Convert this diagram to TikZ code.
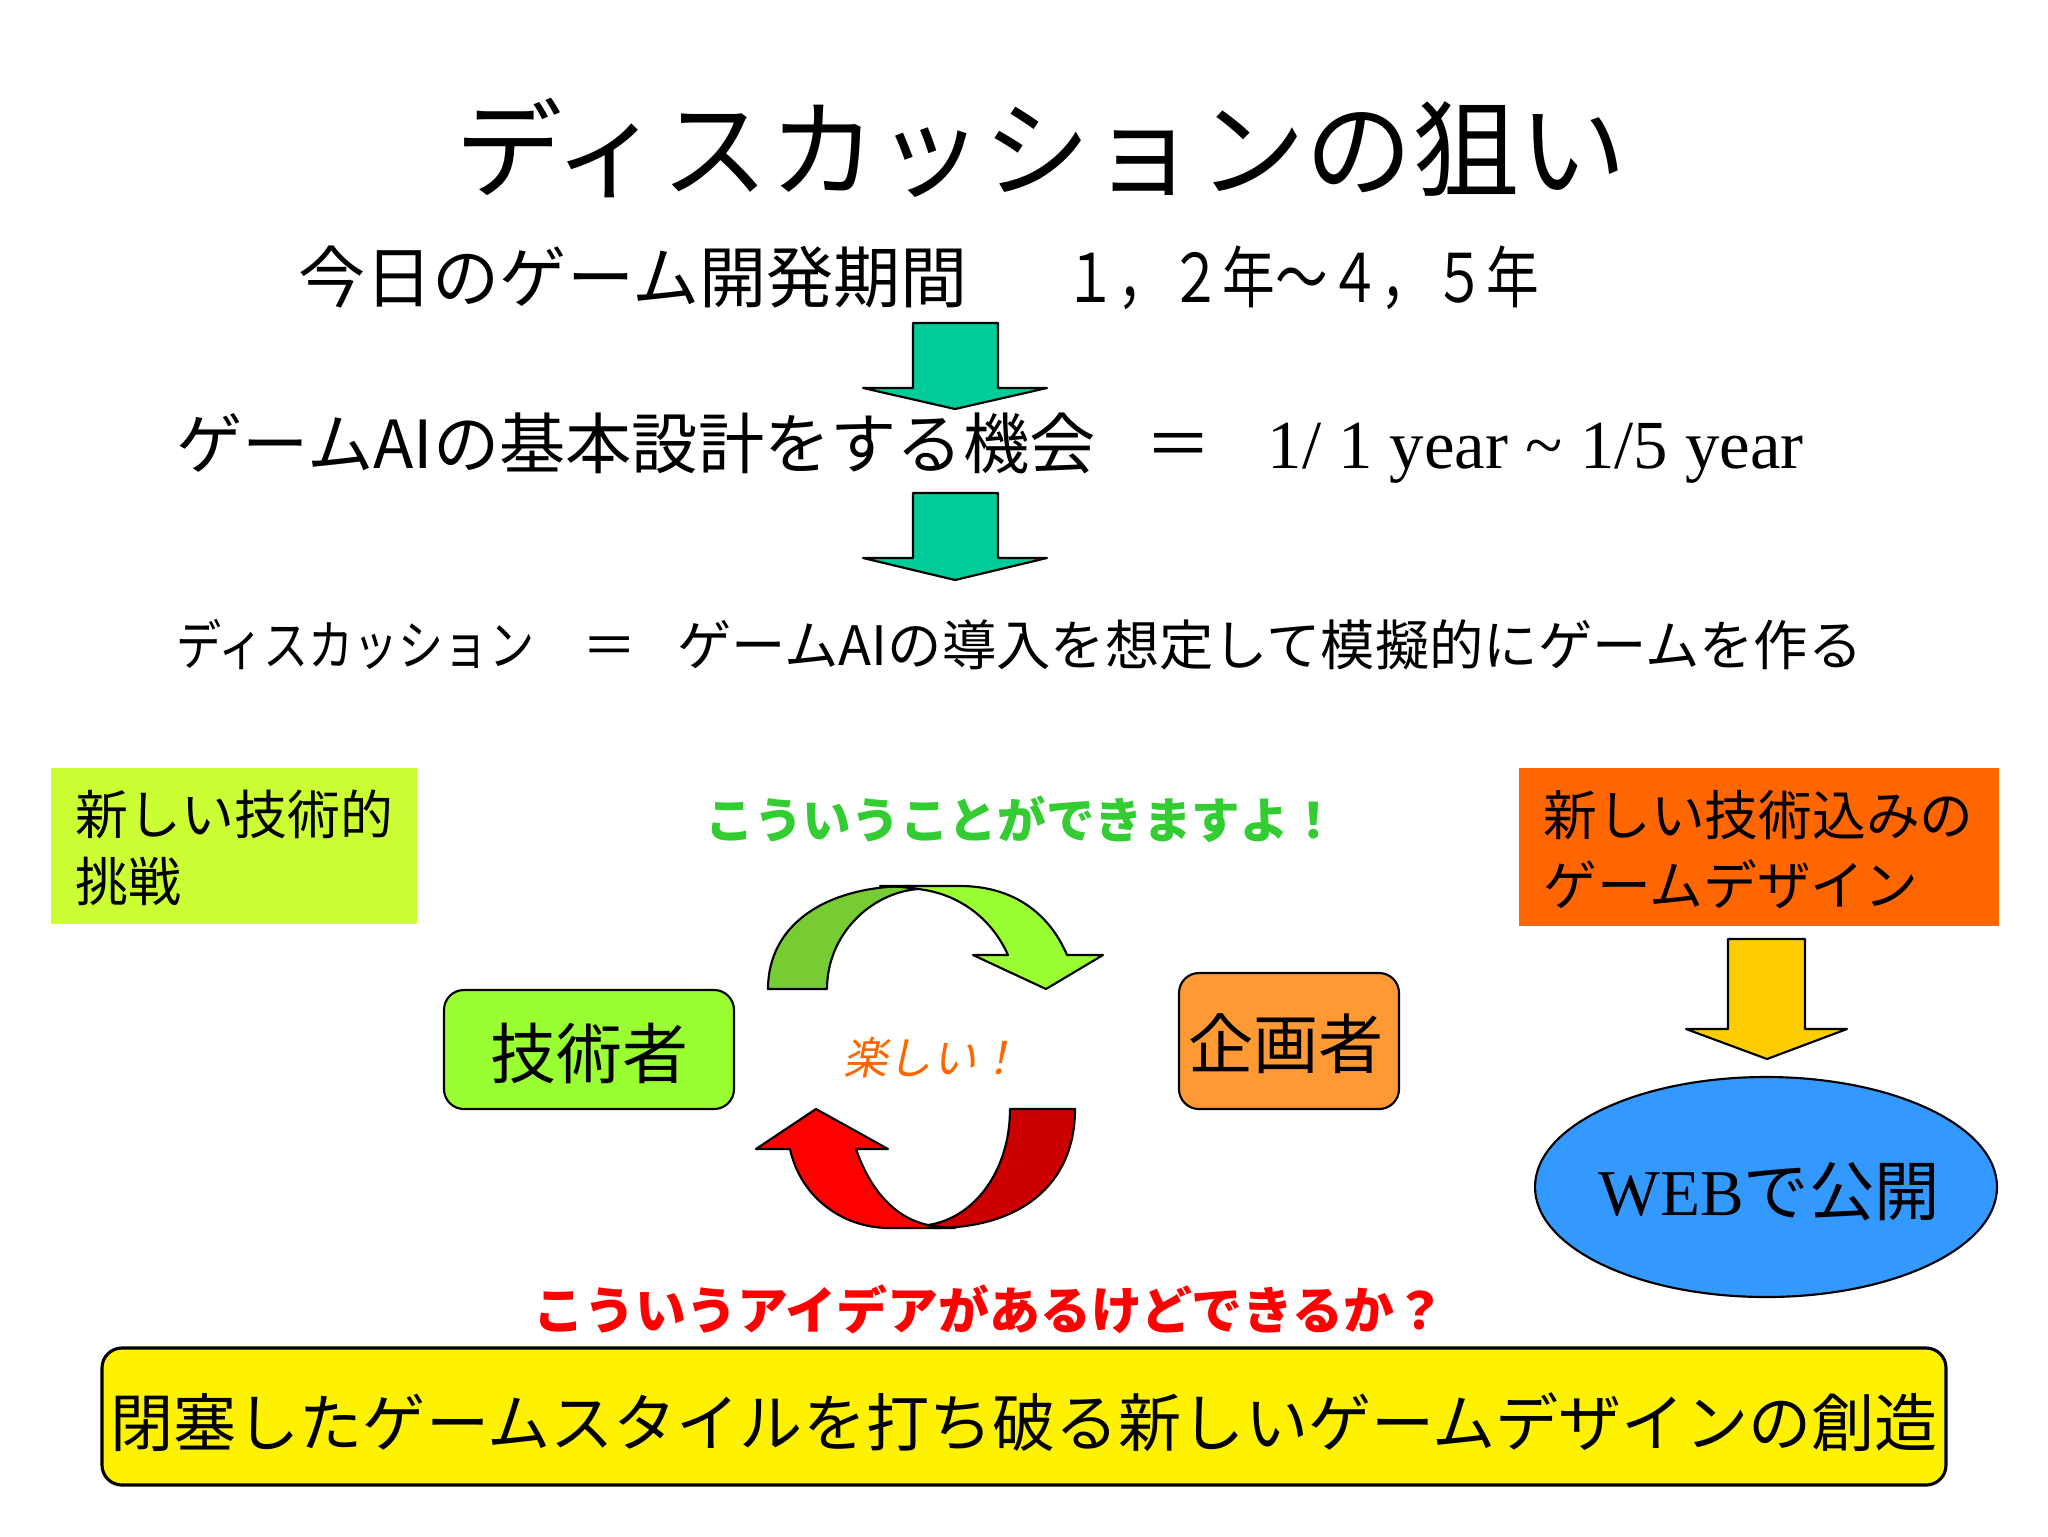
\documentclass[tikz,border=0pt]{standalone}
\usepackage{fontspec}
\usepackage{graphicx}
\setmainfont{Noto Sans CJK JP}
\newfontfamily\timesf{Liberation Serif}
\newfontfamily\slantf[FakeSlant=0.2]{Noto Sans CJK JP}

\definecolor{arrowteal}{RGB}{0,204,153}
\definecolor{limebox}{RGB}{204,255,51}
\definecolor{limeshape}{RGB}{153,255,51}
\definecolor{leafdark}{RGB}{119,204,51}
\definecolor{orangebox}{RGB}{255,102,0}
\definecolor{orangeshape}{RGB}{255,153,51}
\definecolor{goldarrow}{RGB}{255,204,0}
\definecolor{skyblue}{RGB}{51,153,255}
\definecolor{redlight}{RGB}{255,0,0}
\definecolor{reddark}{RGB}{204,0,0}
\definecolor{textgreen}{RGB}{51,204,51}
\definecolor{textorange}{RGB}{255,102,0}

\begin{document}
\begin{tikzpicture}[x=0.3516pt,y=0.3516pt,yscale=-1,xscale=1,
  outl/.style={draw=black, line width=0.75pt, line join=round},
  txt/.style={inner sep=0pt}]
\useasboundingbox (0,0) rectangle (2048,1536);

%Shape: Down Arrow
\draw [outl, fill=arrowteal] (913,323) -- (998,323) -- (998,388) -- (1047,388) -- (955,409) -- (863,388) -- (913,388) -- cycle ;
%Shape: Down Arrow
\draw [outl, fill=arrowteal] (913,493) -- (998,493) -- (998,558) -- (1047,558) -- (955,580) -- (863,558) -- (913,558) -- cycle ;
%Shape: Rectangle
\fill [limebox] (51,768) rectangle (417,924) ;
%Shape: Rectangle
\fill [orangebox] (1519,768) rectangle (1999,926) ;
%Shape: Rounded Rectangle
\draw [outl, fill=limeshape, rounded corners=7pt] (444,990) rectangle (734,1109) ;
%Shape: Rounded Rectangle
\draw [outl, fill=orangeshape, rounded corners=7pt] (1179,973) rectangle (1399,1109) ;
%Shape: Down Arrow
\draw [outl, fill=goldarrow] (1728,939) -- (1805,939) -- (1805,1029) -- (1847,1029) -- (1767,1059) -- (1686,1029) -- (1728,1029) -- cycle ;
%Shape: Ellipse
\draw [outl, fill=skyblue] (1766,1187) ellipse [x radius=231, y radius=110] ;
%Shape: Rounded Rectangle
\draw [outl, line width=1.1pt, fill=yellow, rounded corners=7pt] (102,1348) rectangle (1946,1485) ;

%Curved Arrow (green, back part)
\draw [outl, fill=leafdark] (768,989) .. controls (768,925) and (825,886) .. (910,886) -- (918,889) .. controls (870,893) and (827,935) .. (827,989) -- cycle ;
%Curved Arrow (green, front part)
\draw [outl, fill=limeshape] (880,886) -- (960,886) .. controls (1015,886) and (1050,915) .. (1067,955) -- (1103,955) -- (1046,989) -- (973,955) -- (1008,955) .. controls (990,915) and (955,893) .. (918,889) .. controls (905,887) and (890,886) .. (880,886) -- cycle ;
%Curved Arrow (red, back part)
\draw [outl, fill=reddark] (1075,1109) .. controls (1075,1185) and (1020,1228) .. (935,1228) -- (928,1225) .. controls (975,1218) and (1010,1170) .. (1010,1109) -- cycle ;
%Curved Arrow (red, front part)
\draw [outl, fill=redlight] (955,1228) -- (890,1228) .. controls (840,1228) and (800,1195) .. (790,1149) -- (756,1149) -- (816,1109) -- (888,1149) -- (856,1149) .. controls (870,1190) and (895,1218) .. (928,1225) .. controls (940,1227) and (948,1228) .. (955,1228) -- cycle ;

% Text Node
\draw (1041,189) node [anchor=base][txt] (title) {\fontsize{37.7}{44}\selectfont ディスカッションの狙い};
% Text Node
\draw (298,302) node [anchor=base west][txt] (devperiod) {\fontsize{23.6}{28}\selectfont 今日のゲーム開発期間};
% Text Node
\draw (1064,302) node [anchor=base west][txt] (devyears) {\fontsize{23.6}{28}\selectfont\scalebox{0.785}[1]{１，２年～４，５年}};
% Text Node
\draw (176,468) node [anchor=base west][txt] (chance) {\fontsize{23.3}{28}\selectfont ゲームAIの基本設計をする機会};
% Text Node
\draw (1179,468) node [anchor=base][txt] (chanceeq) {\fontsize{23.3}{28}\selectfont ＝};
% Text Node
\draw (1267,468) node [anchor=base west][txt] (ratio) {\fontsize{24.2}{28}\selectfont\timesf 1/ 1 year \textasciitilde{} 1/5 year};
% Text Node
\draw (176,665) node [anchor=base west][txt] (discuss) {\fontsize{19.1}{23}\selectfont\scalebox{0.83}[1]{ディスカッション}};
% Text Node
\draw (610,665) node [anchor=base][txt] (discusseq) {\fontsize{19.1}{23}\selectfont ＝};
% Text Node
\draw (677,665) node [anchor=base west][txt] (mockgame) {\fontsize{19.1}{23}\selectfont ゲームAIの導入を想定して模擬的にゲームを作る};
% Text Node
\draw (75,848) node [anchor=west][txt, align=left, font=\fontsize{18.6}{23.6}\selectfont] (challenge) {新しい技術的\\挑戦};
% Text Node
\draw (1543,850) node [anchor=west][txt, align=left, font=\fontsize{18.9}{24.6}\selectfont] (newdesign) {新しい技術込みの\\ゲームデザイン};
% Text Node
\draw (705,838) node [anchor=base west][txt] (cando) {\fontsize{17.1}{20}\selectfont\bfseries\color{textgreen} こういうことができますよ！};
% Text Node
\draw (589,1078) node [anchor=base][txt] (engineer) {\fontsize{23.2}{28}\selectfont 技術者};
% Text Node
\draw (1286,1068) node [anchor=base][txt] (planner) {\fontsize{22.9}{28}\selectfont 企画者};
% Text Node
\draw (843,1074) node [anchor=base west][txt] (fun) {\fontsize{15.6}{18}\selectfont\slantf\color{textorange} 楽しい！};
% Text Node
\draw (1598,1215) node [anchor=base west][txt] (web) {\fontsize{23}{28}\selectfont{\timesf WEB}で公開};
% Text Node
\draw (533,1329) node [anchor=base west][txt] (idea) {\fontsize{17.9}{21}\selectfont\bfseries\color{red} こういうアイデアがあるけどできるか？};
% Text Node
\draw (1024,1446) node [anchor=base][txt] (creation) {\fontsize{22.2}{28}\selectfont 閉塞したゲームスタイルを打ち破る新しいゲームデザインの創造};

\end{tikzpicture}
\end{document}
